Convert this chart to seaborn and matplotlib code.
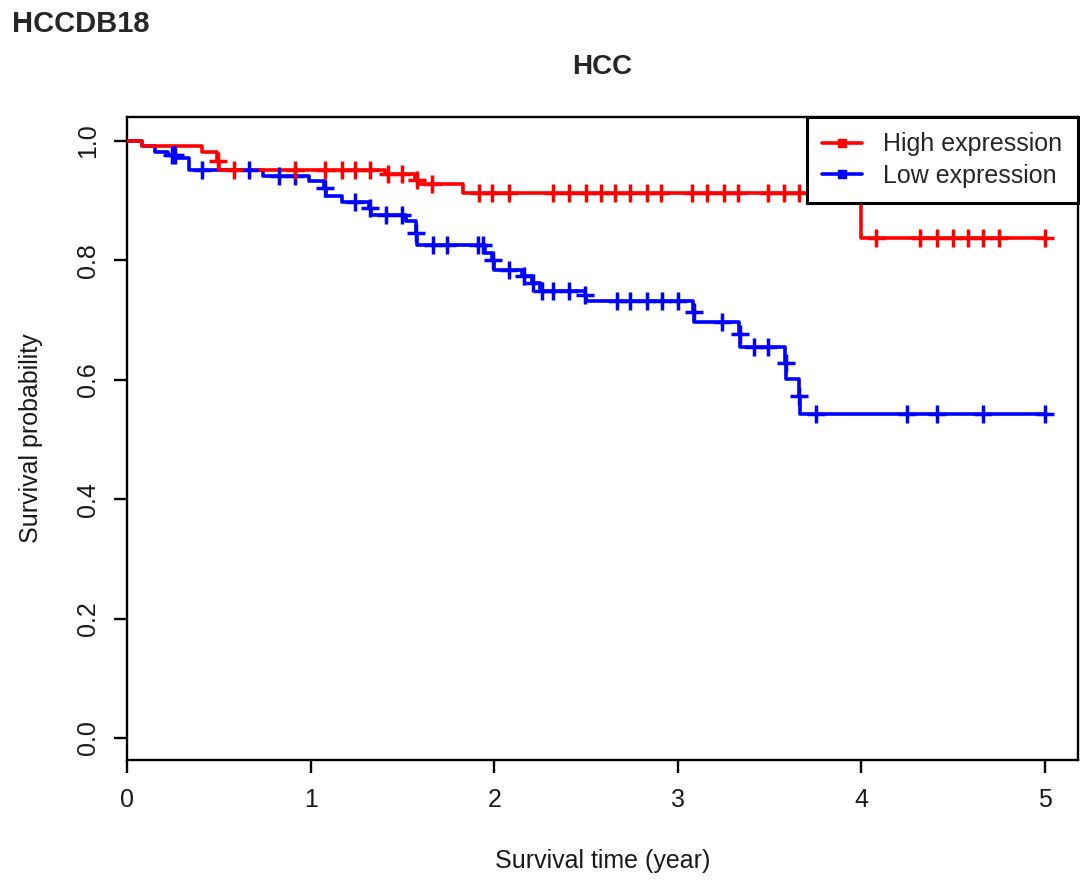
import numpy as np
import pandas as pd
import matplotlib
matplotlib.use("Agg")
import matplotlib.pyplot as plt
from matplotlib.lines import Line2D
import seaborn as sns

# ---- data ----
groups = ["High expression", "Low expression"]
colors = ["#FF0000", "#0000FF"]

high_step_t = [0, 0.08, 0.41, 0.49, 0.50, 1.405, 1.57, 1.585, 1.83, 4.0]
high_step_s = [1.0, 0.991, 0.981, 0.967, 0.951, 0.944, 0.935, 0.927, 0.912, 0.837]
high_cens_t = [0.495, 0.583, 0.915, 1.08, 1.17, 1.24, 1.325, 1.42, 1.50, 1.577,
               1.66, 1.917, 1.99, 2.08, 2.32, 2.41, 2.50, 2.58, 2.66, 2.74,
               2.83, 2.91, 3.08, 3.16, 3.25, 3.33, 3.49, 3.58, 3.66, 3.75,
               3.83, 3.91, 4.08, 4.32, 4.41, 4.50, 4.58, 4.66, 4.75, 5.0]

low_step_t = [0, 0.08, 0.153, 0.225, 0.267, 0.34, 0.74, 0.99, 1.075, 1.085,
              1.17, 1.32, 1.33, 1.52, 1.572, 1.58, 1.95, 1.99, 2.00, 2.15,
              2.204, 2.25, 2.495, 2.50, 3.085, 3.09, 3.335, 3.34, 3.584, 3.59,
              3.66, 3.665]
low_step_s = [1.0, 0.991, 0.982, 0.977, 0.971, 0.951, 0.942, 0.933, 0.921, 0.908,
              0.898, 0.887, 0.876, 0.866, 0.846, 0.826, 0.813, 0.800, 0.783, 0.773,
              0.762, 0.748, 0.742, 0.731, 0.714, 0.697, 0.677, 0.655, 0.628, 0.601,
              0.572, 0.542]
low_cens_t = [0.243, 0.26, 0.407, 0.666, 0.83, 0.915, 1.08, 1.24, 1.325, 1.41,
              1.496, 1.576, 1.665, 1.745, 1.913, 1.94, 1.995, 2.078, 2.16, 2.21,
              2.26, 2.32, 2.41, 2.497, 2.667, 2.74, 2.83, 2.916, 3.0, 3.087,
              3.24, 3.337, 3.415, 3.49, 3.587, 3.662, 3.75, 4.25, 4.41, 4.66, 5.0]

x_ticks = [0, 1, 2, 3, 4, 5]
y_ticks = [0.0, 0.2, 0.4, 0.6, 0.8, 1.0]


def step_frame(step_t, step_s, cens_t, name):
    t = list(step_t) + [max(cens_t)]
    s = list(step_s) + [step_s[-1]]
    return pd.DataFrame({"time": t, "surv": s, "group": name})


def cens_frame(step_t, step_s, cens_t, name):
    st = np.asarray(step_t)
    ss = np.asarray(step_s)
    idx = np.searchsorted(st, np.asarray(cens_t), side="right") - 1
    return pd.DataFrame({"time": cens_t, "surv": ss[idx], "group": name})


high_line = step_frame(high_step_t, high_step_s, high_cens_t, groups[0])
low_line = step_frame(low_step_t, low_step_s, low_cens_t, groups[1])
high_c = cens_frame(high_step_t, high_step_s, high_cens_t, groups[0])
low_c = cens_frame(low_step_t, low_step_s, low_cens_t, groups[1])

sns.set_theme(style="white")
plt.rcParams["font.family"] = ["Liberation Sans", "DejaVu Sans"]

fig = plt.figure(figsize=(10.8, 8.83), dpi=100)
ax = fig.add_axes([0.1176, 0.1393, 0.8806, 0.7282])

lw = 2.6
sns.lineplot(data=low_line, x="time", y="surv", color=colors[1], lw=lw,
             drawstyle="steps-post", estimator=None, sort=False, ax=ax,
             zorder=2, legend=False)
sns.lineplot(data=high_line, x="time", y="surv", color=colors[0], lw=lw,
             drawstyle="steps-post", estimator=None, sort=False, ax=ax,
             zorder=3, legend=False)
sns.scatterplot(data=low_c, x="time", y="surv", color=colors[1], marker="+",
                s=160, linewidth=2.5, ax=ax, zorder=4, legend=False)
sns.scatterplot(data=high_c, x="time", y="surv", color=colors[0], marker="+",
                s=160, linewidth=2.5, ax=ax, zorder=5, legend=False)

ax.set_xlim(0, 5.18)
ax.set_ylim(-0.037, 1.04)
ax.set_xticks(x_ticks)
ax.set_xticklabels([str(v) for v in x_ticks])
ax.set_yticks(y_ticks)
ax.set_yticklabels([f"{v:.1f}" for v in y_ticks])

for sp in ax.spines.values():
    sp.set_visible(True)
    sp.set_color("black")
    sp.set_linewidth(1.7)

ax.tick_params(axis="both", which="major", direction="out", length=9.5,
               width=1.7, color="black", labelsize=18, labelcolor="#1a1a1a",
               bottom=True, left=True)
ax.tick_params(axis="x", pad=11)
ax.tick_params(axis="y", pad=10)
for lab in ax.get_yticklabels():
    lab.set_rotation(90)
    lab.set_va("center")

ax.set_xlabel("Survival time (year)", fontsize=18, color="#1a1a1a")
ax.set_ylabel("Survival probability", fontsize=18, color="#1a1a1a")
ax.xaxis.set_label_coords(0.5, -0.138)
ax.yaxis.set_label_coords(-0.088, 0.5)

ax.set_title("HCC", fontsize=20, fontweight="bold", pad=31)
fig.text(0.011, 1 - 10 / 883, "HCCDB18", fontsize=21, fontweight="bold",
         ha="left", va="top")

handles = [Line2D([0], [0], color=c, lw=lw, marker="s", markersize=6)
           for c in colors]
leg = ax.legend(handles, groups, loc="upper right", bbox_to_anchor=(1.0, 1.0),
                borderaxespad=0.0, fontsize=18, frameon=True, fancybox=False,
                framealpha=1.0, edgecolor="black", handlelength=1.6,
                handletextpad=0.85, labelspacing=0.3, borderpad=0.62)
leg.get_frame().set_linewidth(2.2)
leg.set_zorder(10)

fig.savefig("out.png", dpi=100)
